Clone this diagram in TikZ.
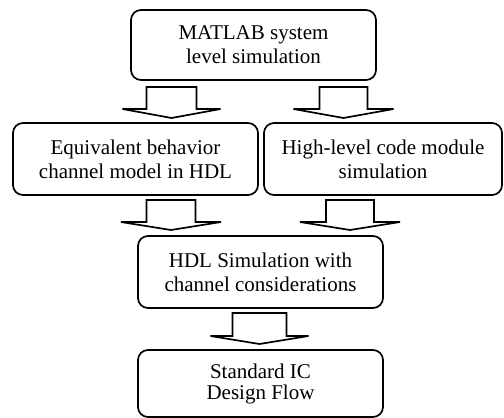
\documentclass[tikz,border=0pt]{standalone}
\usepackage{fontspec}
\setmainfont{Liberation Serif}
% hollow block arrow: centre x, shaft top, head base, tip, shaft half-width, head half-width
\newcommand\blockarrow[6]{%
  \draw[blockarrowstyle] (#1-#5,#2) -- (#1+#5,#2) -- (#1+#5,#3) -- (#1+#6,#3)
    -- (#1,#4) -- (#1-#6,#3) -- (#1-#5,#3) -- cycle;}
\begin{document}
\begin{tikzpicture}[x=1pt,y=-1pt,
  box/.style={draw, line width=1.7pt, rounded corners=10pt, align=center,
    inner sep=0pt, font=\fontsize{21}{24}\selectfont},
  blockarrowstyle/.style={draw, line width=1.7pt, line join=miter, fill=white}]
\useasboundingbox (0,0) rectangle (504,418);

% process boxes
\node[box, minimum width=245pt, minimum height=70pt] (matlab) at (253.5,45)
  {MATLAB system\\level simulation};
\node[box, minimum width=245pt, minimum height=72pt] (equiv) at (135.5,159)
  {Equivalent behavior\\channel model in HDL};
\node[box, minimum width=238pt, minimum height=72pt] (highlevel) at (383,159)
  {High-level code module\\simulation};
\node[box, minimum width=245pt, minimum height=72pt] (hdlsim) at (260.5,272)
  {HDL Simulation with\\channel considerations};
\node[box, minimum width=245pt, minimum height=67pt,
  font=\fontsize{21}{21}\selectfont] (flow) at (260.5,383.5)
  {Standard IC\\Design Flow};

% block arrows between the stages
\blockarrow{171.5}{87}{109}{118}{25}{49}   % matlab -> equiv
\blockarrow{343.5}{87}{109}{118}{24}{50}   % matlab -> highlevel
\blockarrow{171}{200}{222}{230}{24.5}{50}  % equiv -> hdlsim
\blockarrow{350}{200}{222}{230}{24}{50}    % highlevel -> hdlsim
\blockarrow{259.5}{313}{336}{344}{27}{49}  % hdlsim -> flow
\end{tikzpicture}
\end{document}
